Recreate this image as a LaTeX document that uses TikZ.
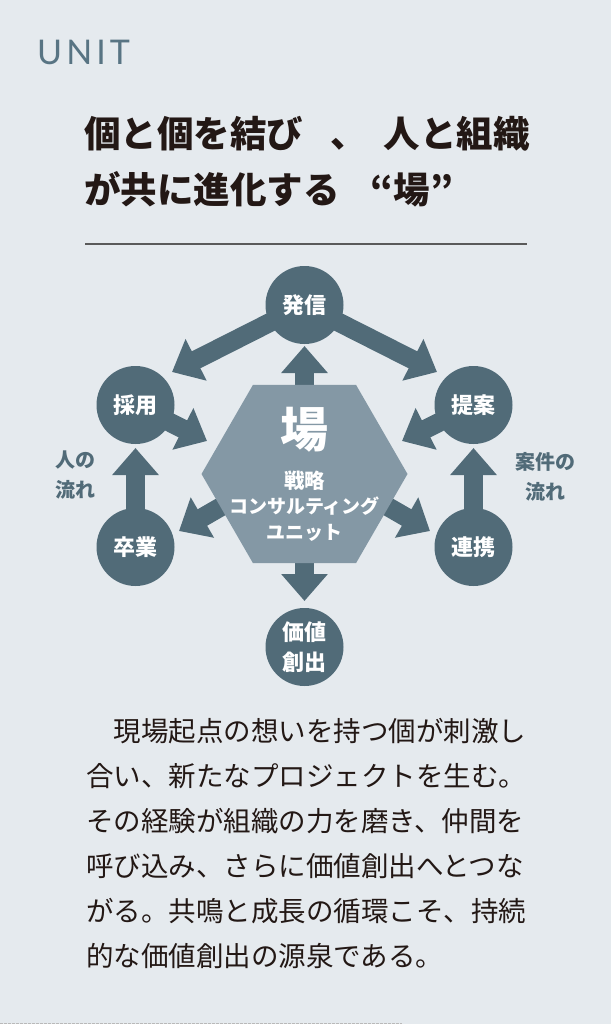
\documentclass[tikz,border=0pt]{standalone}
\usepackage{fontspec}
\setmainfont{Noto Sans CJK JP}
\newfontfamily\latinlight{Lato}[LetterSpace=12]
\usetikzlibrary{arrows.meta,shapes.geometric}

\definecolor{paper}{HTML}{E5EAEE}
\definecolor{slate}{HTML}{516B78}
\definecolor{haze}{HTML}{8498A5}
\definecolor{ink}{HTML}{231815}
\definecolor{unitgray}{HTML}{587483}
\definecolor{rulegray}{HTML}{5A5A5A}

\pgfdeclarelayer{canvas}
\pgfdeclarelayer{flows}
\pgfsetlayers{canvas,flows,main}

\tikzset{
  stage/.style={circle, fill=slate, minimum size=78pt, inner sep=0pt, text=white,
    align=center, font=\bfseries\fontsize{22}{30}\selectfont},
  flow/.style={draw=slate, line width=19pt, -{Triangle[width=45pt,length=27pt]}},
  side/.style={text=slate, align=center, font=\bfseries\fontsize{20}{30}\selectfont},
  heading/.style={anchor=base west, inner sep=0pt, text=ink, font=\bfseries\fontsize{36.5}{36.5}\selectfont},
  body/.style={anchor=base west, inner sep=0pt, text=ink, font=\fontsize{27.5}{27.5}\selectfont},
}

\begin{document}
\begin{tikzpicture}[x=1pt,y=-1pt]
  \begin{pgfonlayer}{canvas}
    \fill[paper] (0,0) rectangle (611,1024);
  \end{pgfonlayer}
  \useasboundingbox (0,0) rectangle (611,1024);

  % header
  \node[anchor=base west, inner sep=0pt, text=unitgray,
    font=\latinlight\fontsize{34}{34}\selectfont] (unit) at (37,65) {UNIT};
  \node[heading] (head1) at (84,147.5) {個と個を結び\hspace{27pt}、\hspace{17pt}人と組織};
  \node[heading] (head2) at (84,204) {が共に進化する\hspace{31pt}“場”};
  \draw[rulegray, line width=1.2pt] (85,244) -- (527,244);

  % hexagon and stages
  \node[regular polygon, regular polygon sides=6, minimum size=206pt,
    inner sep=0pt, fill=haze] (hex) at (304.5,474) {};
  \node[text=white, font=\bfseries\fontsize{48}{48}\selectfont] (ba) at (304.5,430) {場};
  \node[text=white, align=center, font=\bfseries\fontsize{19}{25.5}\selectfont]
    (unitname) at (304.5,506) {{\fontsize{20.5}{25.5}\selectfont 戦略}\\コンサルティング\\ユニット};

  \node[stage] (hassin) at (304.5,305) {発信};
  \node[stage] (saiyo) at (135.5,405) {採用};
  \node[stage] (teian) at (473.5,405) {提案};
  \node[stage] (sotsu) at (135.5,547) {卒業};
  \node[stage] (renkei) at (473.5,547) {連携};
  \node[stage] (kachi) at (304.5,647) {価値\\創出};

  \node[side] (hito) at (75.5,475) {人の\\流れ};
  \node[side] (anken) at (545,477) {案件の\\流れ};

  % arrow ends
  \coordinate (t1) at (172,372);
  \coordinate (t2) at (437,372);
  \coordinate (t3) at (304.5,346);
  \coordinate (t4) at (304.5,601);
  \coordinate (t5) at (207,441);
  \coordinate (t6) at (402,441);
  \coordinate (s7) at (257,486);
  \coordinate (t7) at (179,531);
  \coordinate (s8) at (352,486);
  \coordinate (t8) at (430,531);
  \coordinate (t9) at (135.5,448);
  \coordinate (t10) at (473.5,448);

  \begin{pgfonlayer}{flows}
    \draw[flow] (hassin.center) -- (t1);
    \draw[flow] (hassin.center) -- (t2);
    \draw[flow] (hex.center) -- (t3);
    \draw[flow] (hex.center) -- (t4);
    \draw[flow] (saiyo.center) -- (t5);
    \draw[flow] (teian.center) -- (t6);
    \draw[flow] (s7) -- (t7);
    \draw[flow] (s8) -- (t8);
    \draw[flow] (sotsu.center) -- (t9);
    \draw[flow] (renkei.center) -- (t10);
  \end{pgfonlayer}

  % text
  \foreach \txt [count=\i] in {　現場起点の想いを持つ個が刺激し,
      合い、新たなプロジェクトを生む。,
      その経験が組織の力を磨き、仲間を,
      呼び込み、さらに価値創出へとつな,
      がる。共鳴と成長の循環こそ、持続,
      的な価値創出の源泉である。}
    \node[body] (line\i) at (86,{741.5+45*(\i-1)}) {\txt};

  \draw[gray!55, line width=0.8pt, dash pattern=on 2.5pt off 1.5pt] (0,1023.4) -- (402,1023.4);
\end{tikzpicture}
\end{document}
